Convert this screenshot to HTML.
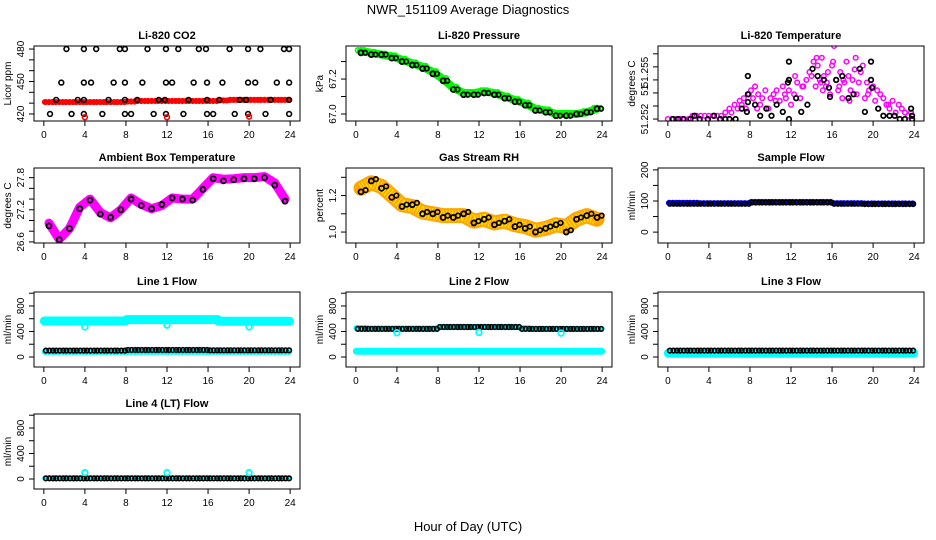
<!DOCTYPE html>
<html><head><meta charset="utf-8">
<style>
html,body{margin:0;padding:0;background:#fff;}
svg{display:block;font-family:"Liberation Sans",Arial,sans-serif;}
</style></head>
<body>
<svg id="chart" width="936" height="540" viewBox="0 0 936 540" xmlns="http://www.w3.org/2000/svg">
<text x="468" y="14" text-anchor="middle" font-size="13">NWR_151109  Average Diagnostics</text>
<text x="468" y="531" text-anchor="middle" font-size="13">Hour of Day (UTC)</text>
</svg>
<script>
// ---- data ----
const xTicks = [0,4,8,12,16,20,24];
// CO2 black points [hour, ppm]
const co2Hours480 = [2.2,3.9,5.1,7.4,7.9,10.1,11.9,13.1,15.1,15.8,18.1,19.9,21.1,23.4,23.9];
const co2Hours449 = [1.7,3.9,4.6,6.8,7.9,9.6,11.9,12.5,14.6,15.9,17.4,19.9,20.6,22.7,23.9];
const co2Hours433 = [1.2,3.3,3.9,6.3,7.9,9.1,11.2,11.8,14.1,15.9,17.1,19.1,19.7,22.1,23.9];
const co2Hours420 = [0.6,2.7,3.9,5.7,7.9,8.5,10.7,11.9,13.6,15.9,16.5,18.6,19.9,21.6,23.9];
const co2Levels = [480,449,433,420];
const co2Red = [431,431,431,431,431,431,431,431,431.5,432,432,432,432,432,432,432,432,432.5,433,433,433,433,433,433];
const co2RedOutHours = [4,12,20];
const co2RedOutVals = [417,417,417.5];
// pressure (hourly bins)
const pressGreen = [67.36,67.35,67.34,67.33,67.31,67.29,67.27,67.24,67.20,67.15,67.12,67.12,67.13,67.12,67.10,67.08,67.06,67.03,67.02,67.00,67.00,67.00,67.01,67.03];
const pressBlack = [67.35,67.34,67.34,67.32,67.30,67.28,67.26,67.23,67.19,67.14,67.11,67.11,67.12,67.11,67.09,67.07,67.05,67.02,67.01,66.99,66.99,67.00,67.01,67.03];
// Li-820 temperature scatter (tick units)
const tempMagHours = [0,0.4,0.8,1.2,1.6,2,2.4,2.8,3.2,3.6,4,4.4,4.8,5.2,5.6,6,6.2,6.5,6.8,7,7.2,7.4,7.6,7.9,8.1,8.3,8.5,8.8,9,9.2,9.5,9.8,10,10.3,10.6,10.9,11.2,11.5,11.8,12,12.3,12.6,12.9,13.2,13.5,13.8,14,14.2,14.4,14.6,14.8,15,15.2,15.4,15.6,15.8,16,16.2,16.4,16.6,16.8,17,17.2,17.4,17.6,17.8,18,18.2,18.4,18.6,18.8,19,19.2,19.4,19.6,19.8,20,20.2,20.4,20.7,21,21.3,21.6,21.9,22.2,22.5,22.8,23.1,23.4,23.7,12.4,13.1,14.5,15.1,15.5,16.1,17.1,18.3,19.5,8.7,10.5,11.4,14.9,16.7,17.7,20.5,21.5];
const tempMagVals = [0,0,0,0,0,0,0.25,0.25,0.25,0.25,0.25,0.25,0.25,0.25,0.5,0.8,0.5,1.1,0.8,1.4,1.1,1.6,0.8,1.9,2.2,1.6,2.5,1.9,1.1,1.6,2.2,0.8,1.6,1.9,2.2,1.4,2.5,1.6,2.2,1.1,1.9,2.8,1.6,2.5,3.0,3.6,3.3,4.4,2.5,4.1,3.0,4.7,3.3,2.5,3.6,1.9,4.1,5.6,3.0,2.2,3.6,1.6,2.8,4.4,3.3,2.2,3.0,3.8,1.9,2.8,3.6,4.1,1.6,2.8,2.2,3.0,2.5,1.4,2.2,1.9,1.6,1.1,0.8,1.4,0.5,1.1,0.8,0.5,0.25,0.5,3.3,2.5,4.7,2.2,2.8,4.4,3.0,4.7,1.9,0.8,1.4,1.9,2.8,2.5,1.4,0.8,1.1];
const tempBlkHours = [0.5,1,1.5,2.2,2.6,3.1,3.9,4.5,5.1,5.6,6,6.6,7.2,7.7,7.8,7.8,7.8,8.5,9,9.6,10.1,10.6,11.2,11.8,11.7,11.8,11.8,12.5,13,13.6,14.1,14.6,15.2,15.7,15.8,16.4,17,17.6,18.1,18.7,19.8,19.8,19.9,19.2,20.5,21,21.6,22.1,22.6,23.1,23.7,23.8,23.8];
const tempBlkVals = [0,0,0,0,0.25,0,0,0.25,0,0,0,0,0.8,0.55,1.3,1.9,3.3,1.1,0.25,0.8,0.25,1.1,0.55,0,2.8,3.0,4.4,1.6,0.55,1.1,3.85,3.3,3.0,2.4,1.7,3.0,3.3,1.6,1.9,3.85,4.4,3.0,2.4,0.55,0.8,0.25,0.25,0.25,0,0,0.8,0.25,0];
// ambient box temperature (hourly bins)
const ambMag = [26.95,26.65,26.85,27.25,27.40,27.15,27.05,27.20,27.42,27.30,27.22,27.28,27.42,27.40,27.40,27.60,27.80,27.77,27.78,27.80,27.80,27.82,27.70,27.40];
const ambBlack = [26.90,26.64,26.85,27.22,27.38,27.12,27.06,27.20,27.40,27.28,27.22,27.30,27.42,27.40,27.38,27.58,27.78,27.74,27.76,27.78,27.78,27.80,27.66,27.36];
// gas stream RH
const rhOrange = [1.24,1.27,1.25,1.20,1.15,1.14,1.11,1.10,1.09,1.09,1.09,1.06,1.07,1.05,1.06,1.04,1.03,1.01,1.02,1.04,1.03,1.07,1.09,1.07];
const rhBlack = [1.22,1.28,1.24,1.19,1.14,1.15,1.10,1.10,1.08,1.08,1.10,1.05,1.07,1.04,1.06,1.03,1.02,1.00,1.02,1.04,1.00,1.07,1.09,1.08];
// sample flow
const sampBlue = [94,94,94,93,93,93,93,93,97,97,97,97,97,97,97,97,93,93,93,92,92,92,92,92];
const sampBlack = [91,91,91,91,91,91,91,91,95,95,95,95,95,95,95,95,91,91,91,90,90,90,90,90];
// line flows
const l1CyanHi = [565,565,565,565,565,565,565,565,585,585,585,585,585,585,585,585,585,560,560,560,560,560,560,560];
const l1CyanLo = [80,80,80,80,80,80,80,80,80,80,80,80,80,80,80,80,80,80,80,80,80,80,80,80];
const l1Black = [100,100,100,100,100,100,100,100,110,110,110,110,110,110,110,110,105,105,105,105,105,105,105,105];
const l1OutVals = [470,500,470];
const l2CyanHi = [455,445,445,445,445,445,445,445,470,470,470,470,470,470,470,470,450,440,440,440,440,440,440,440];
const l2CyanLo = [90,90,90,90,90,90,90,90,90,90,90,90,90,90,90,90,90,90,90,90,90,90,90,90];
const l2Black = [440,440,440,440,440,440,440,440,470,470,470,470,470,470,470,470,440,440,440,440,440,440,440,440];
const l2OutVals = [380,385,375];
const l3Cyan = [60,60,60,60,60,60,60,60,60,60,60,60,60,60,60,60,60,60,60,60,60,60,60,60];
const l3Black = [100,100,100,100,100,100,100,100,100,100,100,100,100,100,100,100,100,100,100,100,100,100,100,100];
const l4Cyan = [10,10,10,10,10,10,10,10,10,10,10,10,10,10,10,10,10,10,10,10,10,10,10,10];
const l4Black = [10,10,10,10,10,10,10,10,10,10,10,10,10,10,10,10,10,10,10,10,10,10,10,10];
const l4OutVals = [100,100,100];
const outHours = [4,12,20];

// ---- drawing ----
const NS = "http://www.w3.org/2000/svg";
const svg = document.getElementById('chart');
const colLeft = [34,346,658], rowTop = [46,168,292,414], PW = 266, PH = 75;
function mk(tag, attrs, parent){
  const e = document.createElementNS(NS, tag);
  for (const k in attrs) e.setAttribute(k, attrs[k]);
  (parent||svg).appendChild(e);
  return e;
}
function panel(col,row,title,ylab,ymin,ymax,ticks,labVals,labTxt,name){
  const L = colLeft[col], T = rowTop[row];
  const g = mk('g',{});
  
  
  const X = h => L + (h+0.96)*PW/25.92;
  const Y = v => T + PH - (v-ymin)/(ymax-ymin)*PH;
  const t = mk('text',{x:L+PW/2,y:T-7,'text-anchor':'middle','font-size':11,'font-weight':'bold'},g);
  t.textContent = title;
  
  
  const yl = mk('text',{transform:`translate(${L-23},${T+PH/2}) rotate(-90)`,'text-anchor':'middle','font-size':10},g);
  yl.textContent = ylab;
  
  
  xTicks.forEach(h=>{
    mk('line',{x1:X(h),x2:X(h),y1:T+PH,y2:T+PH+5,stroke:'#000'},g);
    const tx = mk('text',{x:X(h),y:T+PH+17,'text-anchor':'middle','font-size':10},g);
    tx.textContent = h;
    
    
  });
  ticks.forEach(v=>{ mk('line',{x1:L-5,x2:L,y1:Y(v),y2:Y(v),stroke:'#000'},g); });
  labVals.forEach((v,i)=>{
    const tx = mk('text',{transform:`translate(${L-10},${Y(v)}) rotate(-90)`,'text-anchor':'middle','font-size':10},g);
    tx.textContent = labTxt[i];
    
    
  });
  const clipId = 'c'+col+row;
  const cp = mk('clipPath',{id:clipId},g); mk('rect',{x:L,y:T,width:PW,height:PH},cp);
  const data = mk('g',{'clip-path':`url(#${clipId})`},g);
  
  
  mk('rect',{x:L,y:T,width:PW,height:PH,fill:'none',stroke:'#000','stroke-width':1},g);
  return {X,Y,g:data};
}
function pt(p,h,v,color,r,sw){
  const c = mk('circle',{cx:p.X(h),cy:p.Y(v),r:r||2.3,fill:'none',stroke:color,'stroke-width':sw||1.6},p.g);
  
  
}
function band(p,arr,color,w){
  const pts = [];
  arr.forEach((v,i)=>{ pts.push(p.X(i+0.05)+','+p.Y(v)); pts.push(p.X(i+0.95)+','+p.Y(v)); });
  // smooth transitions between bins
  const pl = mk('polyline',{points:pts.join(' '),fill:'none',stroke:color,'stroke-width':w,'stroke-linejoin':'round','stroke-linecap':'round'},p.g);
  
  
  arr.forEach((v,i)=>{ [0.15,0.5,0.85].forEach(o=>pt(p,i+o,v,color,2.3,1.6)); });
}
function curve(p,arr,color,w){
  const pts = arr.map((v,i)=>p.X(i+0.5)+','+p.Y(v));
  const pl = mk('polyline',{points:pts.join(' '),fill:'none',stroke:color,'stroke-width':w,'stroke-linejoin':'round','stroke-linecap':'round'},p.g);
  
  
}
function blacks(p,arr){
  arr.forEach((v,i)=>{ [0.2,0.55,0.9].forEach(o=>pt(p,i+o,v,'#000',2.3,1.6)); });
}
function blacksCurve(p,arr){
  arr.forEach((v,i)=>pt(p,i+0.5,v,'#000',2.5,1.8));
}
const flowTicks=[0,200,400,600,800,1000], flowLab=[0,400,800];

// CO2
let p = panel(0,0,'Li-820 CO2','Licor ppm',413.5,482.8,[420,430,440,450,460,470,480],[420,450,480],['420','450','480'],'co2-panel');
band(p,co2Red,'#ff0000',5);
[co2Hours480,co2Hours449,co2Hours433,co2Hours420].forEach((hs,k)=>hs.forEach(h=>pt(p,h,co2Levels[k],'#000',2.4,1.6)));
co2RedOutHours.forEach((h,i)=>pt(p,h,co2RedOutVals[i],'#ff0000',2.4,1.6));

// Pressure
p = panel(1,0,'Li-820 Pressure','kPa',66.96,67.389,[67.0,67.1,67.2,67.3],[67.0,67.2],['67.0','67.2'],'pressure-panel');
curve(p,pressGreen,'#00ee00',8);
pressGreen.forEach((v,i)=>[0.2,0.5,0.8].forEach(o=>pt(p,i+o,v+0.005,'#00ff00',2.4,1.6)));
blacksCurve(p,pressBlack);
pressBlack.forEach((v,i)=>pt(p,i+0.9,v,'#000',2.3,1.6));

// Temperature
p = panel(2,0,'Li-820 Temperature','degrees C',-0.15,5.6,[0,1,2,3,4,5],[0,2.2,3.6],['51.252','51','51.255'],'li820-temperature-panel');
tempMagHours.forEach((h,i)=>pt(p,h,tempMagVals[i],'#ff00ff',2.3,1.5));
tempBlkHours.forEach((h,i)=>pt(p,h,tempBlkVals[i],'#000',2.3,1.7));

// Ambient
p = panel(0,1,'Ambient Box Temperature','degrees C',26.58,27.98,[26.6,26.8,27.0,27.2,27.4,27.6,27.8],[26.6,27.2,27.8],['26.6','27.2','27.8'],'ambient-temperature-panel');
curve(p,ambMag,'#ff00ff',9);
blacksCurve(p,ambBlack);

// RH
p = panel(1,1,'Gas Stream RH','percent',0.94,1.351,[1.0,1.1,1.2,1.3],[1.0,1.2],['1.0','1.2'],'rh-panel');
curve(p,rhOrange,'#ffa500',15);
const rl = mk('polyline',{points:rhOrange.map((v,i)=>p.X(i+0.5)+','+p.Y(v)).join(' '),fill:'none',stroke:'#ffee00','stroke-width':11,'stroke-dasharray':'1 2','stroke-linejoin':'round'},p.g);


blacksCurve(p,rhBlack);
rhBlack.forEach((v,i)=>pt(p,i+0.95,v+0.01,'#000',2.3,1.6));

// Sample flow
p = panel(2,1,'Sample Flow','ml/min',-35,206,[0,50,100,150,200],[0,100,200],['0','100','200'],'sample-flow-panel');
band(p,sampBlue,'#0000ff',5);
blacks(p,sampBlack);

// Line 1
p = panel(0,2,'Line 1 Flow','ml/min',-157,1019,flowTicks,flowLab,['0','400','800'],'line1-flow-panel');
band(p,l1CyanHi,'#00ffff',9);
band(p,l1CyanLo,'#00ffff',5);
blacks(p,l1Black);
outHours.forEach((h,i)=>pt(p,h,l1OutVals[i],'#00ffff',2.8,1.8));

// Line 2
p = panel(1,2,'Line 2 Flow','ml/min',-157,1019,flowTicks,flowLab,['0','400','800'],'line2-flow-panel');
band(p,l2CyanHi,'#00ffff',6);
band(p,l2CyanLo,'#00ffff',7);
blacks(p,l2Black);
outHours.forEach((h,i)=>pt(p,h,l2OutVals[i],'#00ffff',2.8,1.8));

// Line 3
p = panel(2,2,'Line 3 Flow','ml/min',-157,1019,flowTicks,flowLab,['0','400','800'],'line3-flow-panel');
band(p,l3Cyan,'#00ffff',9);
blacks(p,l3Black);

// Line 4
p = panel(0,3,'Line 4 (LT) Flow','ml/min',-157,1019,flowTicks,flowLab,['0','400','800'],'line4-flow-panel');
band(p,l4Cyan,'#00ffff',4);
blacks(p,l4Black);
outHours.forEach((h,i)=>pt(p,h,l4OutVals[i],'#00ffff',2.8,1.8));
</script>
</body></html>
